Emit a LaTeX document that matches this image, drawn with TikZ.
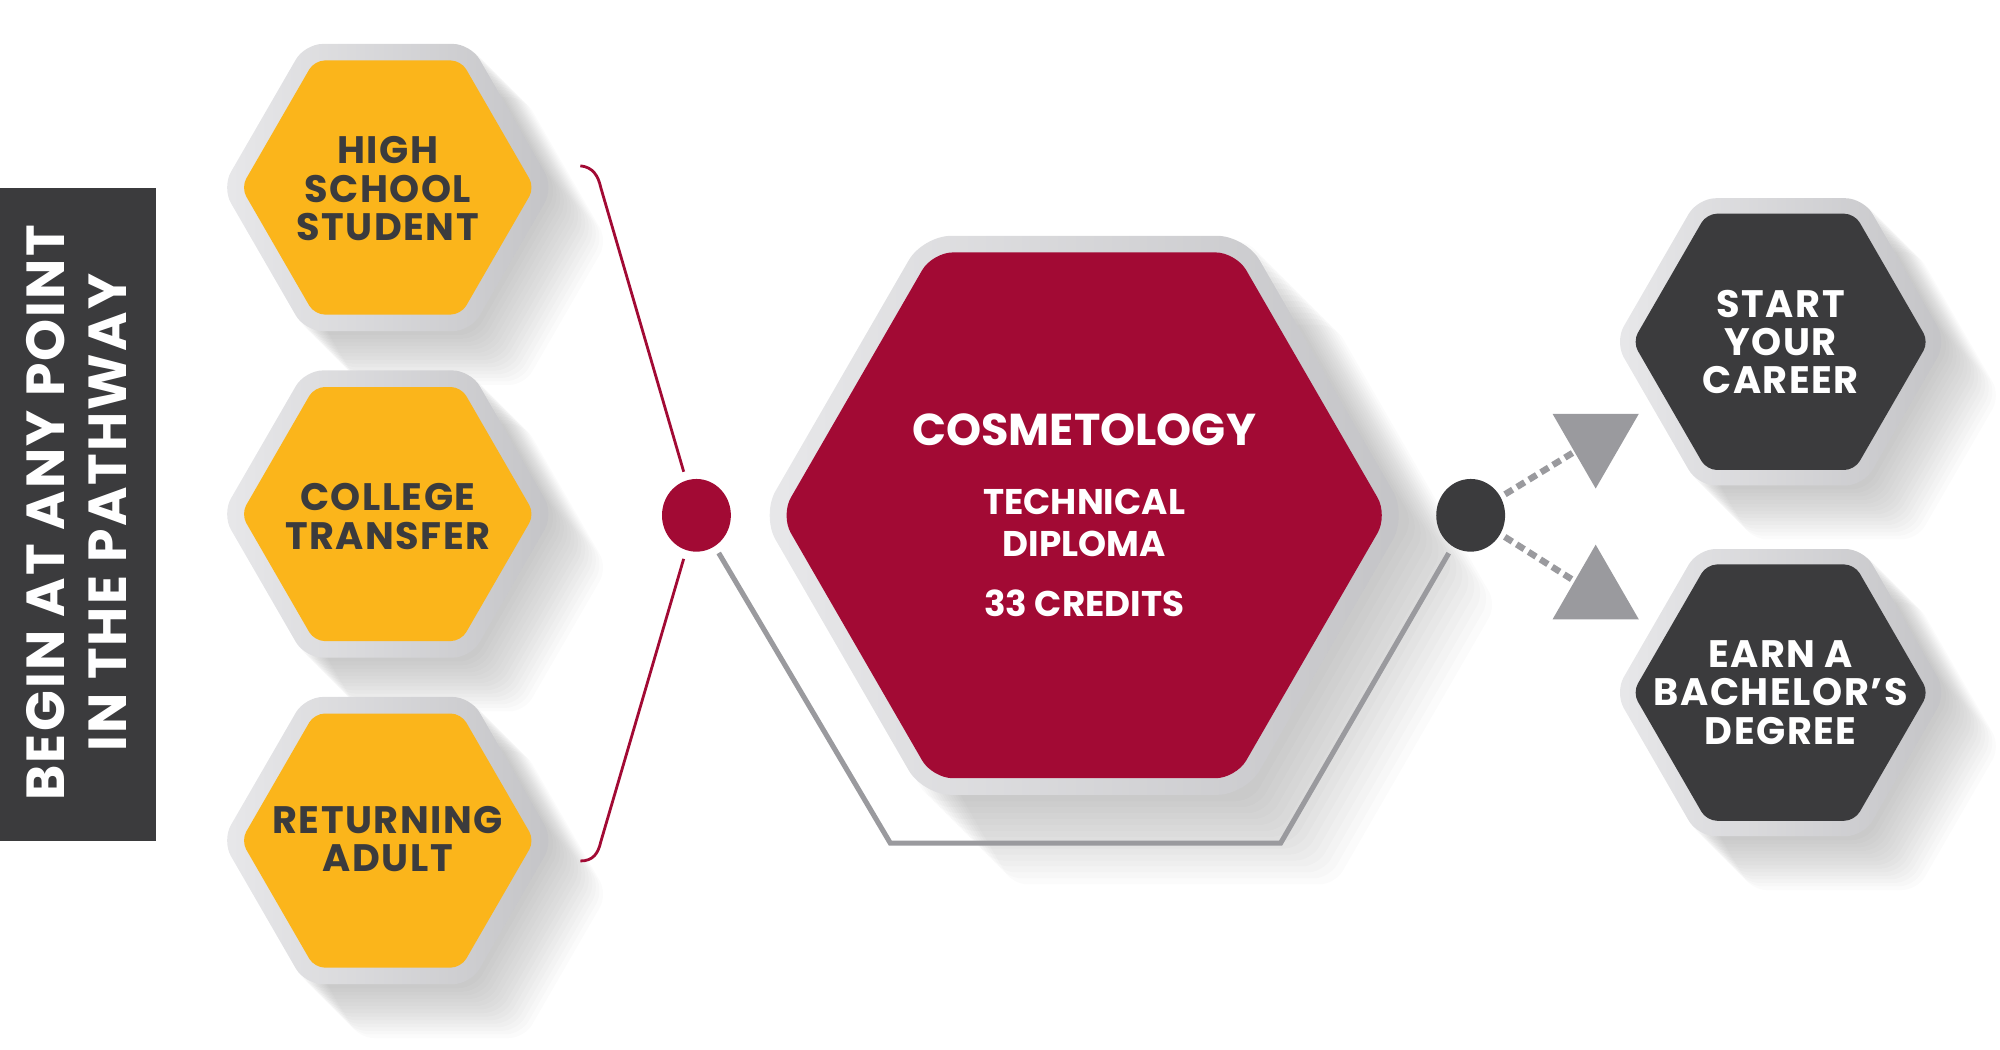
\documentclass[tikz,border=0pt]{standalone}
\usepackage{fontspec}
\setmainfont{Poppins}
\newfontfamily\spacedfont{Poppins}[LetterSpace=4]
\usetikzlibrary{shapes.geometric}

\definecolor{hexyellow}{HTML}{FBB51B}
\definecolor{hexred}{HTML}{A20A34}
\definecolor{hexdark}{HTML}{3B3B3D}
\definecolor{rimlight}{HTML}{E8E8EA}
\definecolor{rimdark}{HTML}{C4C4C7}
\definecolor{linegray}{HTML}{9A9A9E}

\pgfdeclarelayer{bg}
\pgfsetlayers{bg,main}

% soft cast shadow behind a hexagon rim
\newcommand{\hexshadow}[2]{%
  \foreach \sh in {1,...,15}
    \fill[black, opacity=0.014, rounded corners=12pt]
      ([shift={({\sh*#2/15},{\sh*#2/15})}]#1.corner 1)
      -- ([shift={({\sh*#2/15},{\sh*#2/15})}]#1.corner 2)
      -- ([shift={({\sh*#2/15},{\sh*#2/15})}]#1.corner 3)
      -- ([shift={({\sh*#2/15},{\sh*#2/15})}]#1.corner 4)
      -- ([shift={({\sh*#2/15},{\sh*#2/15})}]#1.corner 5)
      -- ([shift={({\sh*#2/15},{\sh*#2/15})}]#1.corner 6) -- cycle;}

\begin{document}
\begin{tikzpicture}[x=1pt, y=-1pt,
	rim/.style={regular polygon, regular polygon sides=6, inner sep=0pt,
		left color=rimlight, right color=rimdark, rounded corners=14pt},
	hexa/.style={regular polygon, regular polygon sides=6, inner sep=0pt, rounded corners=8pt},
	lbl/.style={align=center, inner sep=0pt, font=\spacedfont\bfseries\fontsize{30}{30}\selectfont},
	dot/.style={ellipse, inner sep=0pt, minimum width=54pt, minimum height=57pt},
	arrowtri/.style={regular polygon, regular polygon sides=3, inner sep=0pt,
		fill=linegray, minimum size=78pt},
	redline/.style={draw=hexred, line width=2.2pt},
	grayline/.style={draw=linegray, line width=4pt},
	dashline/.style={draw=linegray, line width=5pt, dash pattern=on 7pt off 4pt}]
	\useasboundingbox (0,0) rectangle (1568,823);

	% side banner
	\node[fill=hexdark, anchor=north west, inner sep=0pt, minimum width=122pt, minimum height=512pt] (bar) at (0,147) {};
	\node[rotate=90, text=white, align=center, inner sep=0pt,
		font=\spacedfont\bfseries\fontsize{42}{48}\selectfont] (bar-txt) at (60,402) {BEGIN AT ANY POINT\\IN THE PATHWAY};

	% starting points
	\node[rim, minimum size=260pt] (hs-rim) at (304,147) {};
	\node[hexa, fill=hexyellow, minimum size=230pt] (hs) at (304,147) {};
	\node[lbl, text=hexdark] (hs-txt) at (304,148) {HIGH\\SCHOOL\\STUDENT};

	\node[rim, minimum size=260pt] (ct-rim) at (304,403) {};
	\node[hexa, fill=hexyellow, minimum size=230pt] (ct) at (304,403) {};
	\node[lbl, text=hexdark] (ct-txt) at (304,405) {COLLEGE\\TRANSFER};

	\node[rim, minimum size=260pt] (ra-rim) at (304,659) {};
	\node[hexa, fill=hexyellow, minimum size=230pt] (ra) at (304,659) {};
	\node[lbl, text=hexdark] (ra-txt) at (304,658) {RETURNING\\ADULT};

	% program
	\node[rim, minimum size=506pt, rounded corners=22pt] (cos-rim) at (850,404) {};
	\node[hexa, fill=hexred, minimum size=476pt, rounded corners=16pt] (cos) at (850,404) {};
	\node[text=white, inner sep=0pt, font=\bfseries\fontsize{35}{35}\selectfont] (cos-title) at (850,337) {COSMETOLOGY};
	\node[align=center, inner sep=0pt, text=white, font=\bfseries\fontsize{28}{33}\selectfont] (cos-dipl) at (850,410) {TECHNICAL\\DIPLOMA};
	\node[inner sep=0pt, text=white, font=\bfseries\fontsize{28}{33}\selectfont] (cos-cred) at (850,473) {33 CREDITS};

	% outcomes
	\node[rim, minimum size=260pt] (car-rim) at (1396,268) {};
	\node[hexa, fill=hexdark, minimum size=232pt] (car) at (1396,268) {};
	\node[lbl, text=white] (car-txt) at (1396,268) {START\\YOUR\\CAREER};

	\node[rim, minimum size=260pt] (deg-rim) at (1396,543) {};
	\node[hexa, fill=hexdark, minimum size=232pt] (deg) at (1396,543) {};
	\node[lbl, text=white] (deg-txt) at (1396,543) {EARN A\\BACHELOR’S\\DEGREE};

	% joints and pointers
	\node[dot, fill=hexred] (rdot) at (546,404) {};
	\node[dot, fill=hexdark] (ddot) at (1153,404) {};
	\node[arrowtri, shape border rotate=180] (arr-car) at (1251,344) {};
	\node[arrowtri] (arr-deg) at (1251,466) {};

	\coordinate (br-top) at (455,130);
	\coordinate (br-bot) at (455,675);
	\coordinate (lp-left) at (698,661);
	\coordinate (lp-right) at (1004,661);

	\draw[redline, shorten >=7pt] (br-top) .. controls (465,131) and (469,138) .. (471,147) -- (rdot);
	\draw[redline, shorten <=7pt] (rdot) -- (471,660) .. controls (469,669) and (465,675) .. (br-bot);
	\draw[grayline, shorten <=6pt, shorten >=6pt] (rdot) -- (lp-left) -- (lp-right) -- (ddot);
	\draw[dashline, shorten <=4pt] (ddot) -- (arr-car);
	\draw[dashline, shorten <=4pt] (ddot) -- (arr-deg);

	\begin{pgfonlayer}{bg}
		\foreach \n in {hs-rim, ct-rim, ra-rim, car-rim, deg-rim} {\hexshadow{\n}{42}}
		\hexshadow{cos-rim}{70}
	\end{pgfonlayer}
\end{tikzpicture}
\end{document}
